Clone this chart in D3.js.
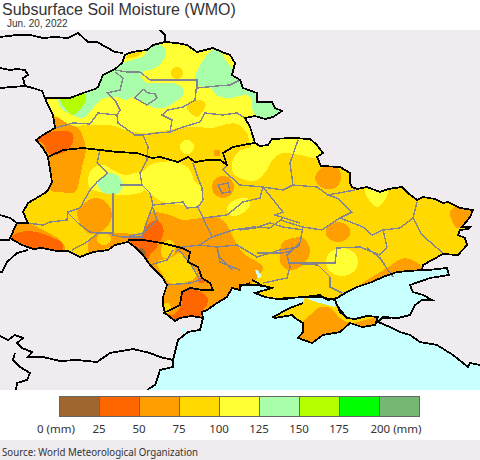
<!DOCTYPE html>
<html>
<head>
<meta charset="utf-8">
<script src="https://cdn.jsdelivr.net/npm/d3@7"></script>
<style>
html, body { margin: 0; padding: 0; background: #fff; }
svg { display: block; }
text { font-family: "Noto Sans", sans-serif; fill: #333; }
text.head { font-family: "Liberation Sans", sans-serif; }
</style>
</head>
<body>
<div id="chart"></div>
<script>
var legendBreaks = [0, 25, 50, 75, 100, 125, 150, 175, 200, 225];
var legendColors = ["#a0662f", "#ff6600", "#ff9e00", "#ffd900", "#ffff33", "#a9ffa9", "#b3ff00", "#00ff00", "#74b874"];
var legendLabels = ["0 (mm)", "25", "50", "75", "100", "125", "150", "175", "200 (mm)"];

var northBorder = [[45,98],[58,98],[70,98],[83,93],[95,89],[98,87],[100,82],[103,75],[115,69],[122,63],[125,55],[132,52],[147,50],[153,45],[165,42],[177,43],[187,45],[197,52],[213,48],[222,52],[230,55],[235,63],[232,75],[240,80],[243,88],[257,93],[257,102],[272,102],[275,108],[282,111],[273,117],[265,119],[255,116],[245,118],[250,127],[252,133],[255,143],[260,146],[268,145],[272,139],[293,138],[310,139],[316,144],[323,153],[317,157],[321,166],[340,167],[350,173],[350,183],[352,187],[357,189],[367,187],[380,192],[388,189],[402,187],[408,193],[417,200],[423,197],[435,199],[443,203],[448,202],[460,208],[473,210],[470,217],[462,227],[470,227],[468,229],[460,230],[458,235],[465,238],[467,245],[458,255],[443,254],[423,265],[422,270]];
var coastUkraine = [[422,270],[397,272],[383,277],[372,282],[357,287],[347,292],[337,298],[328,300],[320,295],[305,297],[288,298],[277,299],[265,297],[255,293],[272,288],[260,285],[250,285],[240,285],[240,290],[232,288],[227,297],[217,303],[207,310],[202,312],[203,318]];
var southWestBorder = [[203,318],[192,316],[180,318],[175,321],[165,313],[163,305],[163,297],[167,285],[162,277],[150,265],[143,255],[135,247],[128,242],[115,245],[108,250],[93,252],[85,255],[80,257],[68,251],[57,251],[42,248],[33,249],[22,245],[10,238],[17,223],[28,223],[23,212],[28,203],[45,193],[48,190],[52,182],[48,157],[43,148],[36,140],[43,135],[55,128],[53,115],[47,103],[45,98]];
var crimea = [[303,303],[290,308],[273,317],[275,318],[292,315],[295,318],[303,323],[303,332],[298,338],[312,343],[323,335],[340,332],[350,323],[362,327],[375,325],[378,317],[367,316],[355,319],[347,318],[338,307],[335,300],[320,297],[305,297]];
var azovRussia = [[422,270],[428,270],[447,268],[449,275],[430,278],[410,285],[413,292],[423,295],[432,300],[422,300],[415,305],[410,315],[398,318],[383,317],[378,322],[390,327],[400,332],[410,335],[420,342],[437,345],[453,355],[468,367],[470,363],[480,365]];
var romaniaCoast = [[203,318],[200,330],[188,332],[178,340],[173,360],[173,367],[160,370],[157,380],[155,385],[147,390]];
var sivash = [[305,297],[317,295],[327,300],[335,300],[335,307],[320,303],[310,300]];
var dniproMouth = [[255,270],[258,270],[262,277],[258,278]];
var razimLake = [[181,328],[185,328],[185,333],[181,333]];

var neighbourLines = [
  [[0,37],[17,35],[30,35],[43,38],[55,37],[68,38],[78,33],[88,42],[97,42],[115,52],[123,53]],
  [[0,68],[10,70],[17,69],[25,70],[28,75],[23,78],[25,86],[33,88],[42,91],[45,98]],
  [[0,88],[25,86]],
  [[160,30],[165,35],[165,42]],
  [[0,215],[10,218],[17,223]],
  [[0,240],[10,240]],
  [[28,250],[17,253],[7,262],[2,272],[0,272]],
  [[0,336],[8,340],[15,335],[23,338],[17,343],[22,348],[32,352],[28,357],[43,357],[60,361],[77,360],[97,362],[110,353],[133,349],[150,353],[160,357],[173,360]],
  [[15,353],[13,360],[20,367],[30,373],[27,380],[17,383],[16,390]]
];
var thickInner = [
  [[48,157],[63,150],[83,148],[117,152],[137,153],[152,158],[160,157],[178,162],[188,157],[195,162],[208,160],[220,160],[227,165],[223,153],[233,147],[248,144],[255,143]],
  [[128,240],[143,240],[162,243],[182,248],[190,252],[188,262],[198,267],[202,278],[210,283],[213,290],[203,290],[190,288],[182,292],[180,305],[170,310],[163,313]],
  [[335,300],[340,312],[347,318]],
  [[337,298],[347,292]],
  [[250,283],[245,285],[240,286]],
  [[252,280],[258,283],[262,287]],
  [[277,299],[288,299]],
  [[383,318],[391,318]]
];
var oblastLines = [
  [[115,70],[127,72],[140,72],[150,80],[170,80],[197,80],[197,88],[217,86],[230,85],[240,80]],
  [[115,72],[123,78],[120,90],[107,93],[115,100],[120,110],[117,115],[118,123],[135,135],[143,135],[157,133],[170,132]],
  [[55,128],[73,123],[90,124],[98,113],[117,115]],
  [[143,135],[148,147],[147,160],[140,173],[142,185],[120,185]],
  [[100,150],[97,163],[108,173],[97,182],[90,190],[80,208],[68,212],[67,220],[50,222],[43,225],[27,223]],
  [[197,82],[195,100],[183,107],[168,110],[162,115],[172,120],[170,132],[183,127],[200,122],[205,113],[223,115],[237,113],[245,118]],
  [[143,89],[135,98],[147,105],[157,98],[155,94],[148,93],[143,89]],
  [[298,140],[290,163],[293,185],[283,190],[263,187],[240,185],[223,170],[227,165]],
  [[293,185],[317,187],[328,195],[355,190]],
  [[328,195],[337,198],[352,212],[340,218],[322,230],[303,227],[280,220]],
  [[340,218],[363,227],[372,235],[383,230],[400,228],[413,218],[417,202]],
  [[413,218],[422,235],[437,248],[443,253]],
  [[383,230],[387,247],[380,255],[360,247],[337,248],[335,263],[320,263],[290,263]],
  [[303,227],[300,243],[287,255],[290,267],[287,278],[263,283]],
  [[367,248],[380,258],[388,270],[393,277]],
  [[240,230],[255,228],[270,223],[283,227],[303,230]],
  [[257,253],[280,253],[288,252],[300,245]],
  [[290,263],[318,265],[330,277],[330,287],[342,293],[337,298]],
  [[142,185],[150,193],[153,205],[150,213],[145,227],[142,237],[122,237],[113,235],[113,193]],
  [[153,205],[183,202],[187,208],[198,207],[203,218],[227,215],[243,202],[260,198],[263,187]],
  [[193,163],[198,178],[202,188],[203,200],[198,207]],
  [[263,187],[283,212],[275,215],[300,223]],
  [[203,218],[212,237],[200,245],[183,247],[175,252]],
  [[212,237],[233,230],[253,227],[270,228],[283,218]],
  [[200,245],[217,247],[237,245],[257,257],[280,250],[298,247]],
  [[217,247],[220,258],[233,270]],
  [[218,185],[228,183],[230,192],[222,193],[218,185]],
  [[67,212],[78,223],[90,232],[98,233],[113,233]],
  [[98,233],[87,242],[72,250]],
  [[153,208],[157,220],[143,233],[125,237]],
  [[173,250],[167,260],[150,265]],
  [[177,248],[190,263],[200,280],[190,283],[167,285]],
  [[217,247],[220,262],[240,270]]
];

// moisture patches, painted in this order over the 75-100 mm base
var yellowNorth = [[46,90],[47,100],[50,112],[58,117],[70,125],[90,125],[110,125],[133,132],[157,132],[177,128],[197,127],[213,128],[227,124],[237,124],[247,133],[252,146],[300,130],[260,60],[100,25],[40,70]];
var yellowNorthEast = [[232,163],[233,173],[245,180],[257,180],[267,170],[272,160],[282,153],[300,155],[320,157],[330,130],[262,130],[256,143],[250,147],[238,152]];
var yellowCentre = [[140,177],[150,165],[163,162],[178,162],[190,170],[195,182],[202,188],[202,200],[193,208],[183,205],[163,202],[152,195],[143,188]];
var yellowWest = [[88,178],[93,168],[103,165],[113,170],[125,175],[145,172],[145,190],[125,195],[112,194],[100,192],[90,188]];
var yellowKyivSouth = [[227,208],[235,200],[247,198],[250,205],[243,213],[232,216]];
var yellowEast = [[365,190],[377,207],[388,192],[380,180]];
var greenNorthWest = [[58,98],[63,110],[73,115],[83,118],[93,108],[100,100],[110,97],[117,97],[127,100],[133,97],[140,100],[152,107],[163,108],[175,102],[183,95],[183,88],[173,83],[157,83],[147,83],[142,78],[142,73],[157,67],[165,57],[165,48],[157,45],[147,50],[145,55],[133,60],[123,63],[113,70],[103,75],[98,83],[95,88],[70,95]];
var greenNorthEast = [[195,77],[202,62],[212,50],[218,50],[227,62],[233,68],[240,60],[290,110],[285,120],[258,118],[252,108],[252,100],[247,95],[230,98],[218,96],[210,88],[197,85]];
var greenWest = [[98,183],[104,175],[112,173],[120,178],[123,186],[118,193],[108,194],[100,190]];
var limeNorthWest = [[60,98],[83,92],[86,98],[82,107],[73,115],[65,108]];
var goldNorthPatch = [[187,108],[197,117],[205,107],[205,102],[197,100],[187,105]];
var goldNorthTip = [[125,58],[133,52],[143,50],[140,55],[130,58]];
var orangeNorthTip = [[128,54],[135,50],[140,50],[133,53]];
var orangeWest = [[53,117],[58,118],[70,125],[78,128],[83,137],[86,150],[83,163],[80,177],[75,192],[60,192],[50,190],[46,160],[32,140],[50,125]];
var redWest = [[36,140],[50,132],[72,133],[73,142],[67,150],[55,155],[48,153],[43,143]];
var orangeBlobWest = [[80,207],[95,198],[107,203],[112,215],[107,227],[98,233],[88,233],[80,223],[77,213]];
var orangeCarpath = [[9,237],[17,223],[28,223],[43,230],[60,240],[65,247],[63,255],[40,255],[20,250]];
var redCarpath = [[12,237],[20,232],[37,232],[53,238],[62,243],[62,252],[43,250],[30,248],[20,245]];
var orangeSouth = [[145,227],[150,213],[170,215],[183,220],[200,218],[217,217],[227,225],[233,237],[243,253],[263,267],[257,278],[245,292],[230,310],[205,330],[170,330],[155,300],[160,280],[150,265],[128,243],[115,245],[90,254],[88,245],[92,237],[100,233],[120,233],[143,233]];
var goldMoldovaMid = [[157,262],[170,258],[180,253],[190,265],[197,273],[192,280],[170,283],[163,275]];
var goldMoldovaTop = [[162,245],[170,240],[175,245],[173,255],[163,258]];
var redCentre = [[143,235],[147,225],[157,220],[163,227],[163,235],[158,243],[143,238]];
var redMoldovaNorth = [[128,238],[150,238],[158,245],[150,255],[147,262],[142,257],[135,247]];
var brownMoldova = [[140,248],[145,250],[146,256],[143,258],[139,252]];
var redBudjak = [[173,315],[182,303],[182,292],[190,288],[207,297],[207,305],[203,310],[203,325],[178,325],[165,313]];
var redDniester = [[198,278],[206,280],[203,283],[198,282]];
var orangePoltava = [[315,177],[322,168],[337,167],[341,177],[337,187],[325,189],[317,183]];
var orangeFarEast = [[450,212],[460,205],[476,208],[465,225],[457,228],[451,218]];
var orangeZaporizhzhia = [[280,253],[283,242],[303,238],[310,250],[303,265],[288,270],[280,262]];
var orangeAzov = [[355,290],[387,268],[405,258],[423,268],[423,275],[395,285]];
var orangeCrimea = [[303,322],[310,315],[320,307],[330,308],[340,318],[350,323],[375,318],[382,320],[380,332],[340,345],[295,347],[295,335]];

var patches = [
  { mm: 110, pts: yellowNorth }, { mm: 110, pts: yellowNorthEast }, { mm: 110, pts: yellowCentre },
  { mm: 110, pts: yellowWest }, { mm: 110, pts: yellowKyivSouth }, { mm: 110, pts: yellowEast },
  { mm: 135, pts: greenNorthWest }, { mm: 135, pts: greenNorthEast }, { mm: 135, pts: greenWest },
  { mm: 160, pts: limeNorthWest }, { mm: 85, pts: goldNorthPatch }, { mm: 85, pts: goldNorthTip },
  { mm: 60, pts: orangeNorthTip }, { mm: 60, pts: orangeWest }, { mm: 35, pts: redWest },
  { mm: 60, pts: orangeBlobWest }, { mm: 60, pts: orangeCarpath }, { mm: 35, pts: redCarpath },
  { mm: 60, pts: orangeSouth }, { mm: 85, pts: goldMoldovaMid }, { mm: 85, pts: goldMoldovaTop },
  { mm: 35, pts: redCentre }, { mm: 35, pts: redMoldovaNorth }, { mm: 10, pts: brownMoldova },
  { mm: 35, pts: redBudjak }, { mm: 35, pts: redDniester }, { mm: 60, pts: orangePoltava },
  { mm: 60, pts: orangeFarEast }, { mm: 60, pts: orangeZaporizhzhia }, { mm: 60, pts: orangeAzov },
  { mm: 60, pts: orangeCrimea }
];
// round patches: centre x, centre y, radius x, radius y, mm
var roundPatches = [
  [177, 73, 6, 6, 85],
  [187, 147, 7, 7, 110],
  [217, 153, 3.5, 3.5, 60],
  [223, 187, 11, 11, 60],
  [338, 232, 12.5, 10, 60],
  [342, 262, 16, 14, 110],
  [104, 239, 7, 6, 85],
  [167, 308, 4, 5, 85],
  [178, 319, 2, 1.5, 10]
];

var width = 480, height = 460;
var mapTop = 30, mapBottom = 390;

var colorScale = d3.scaleThreshold().domain(legendBreaks.slice(1, 9)).range(legendColors);
var xMap = d3.scaleLinear().domain([0, 480]).range([0, width]);
var yMap = d3.scaleLinear().domain([30, 390]).range([mapTop, mapBottom]);
var legendX = d3.scaleLinear().domain([0, 225]).range([59, 419]);

var line = d3.line().x(function(d) { return xMap(d[0]); }).y(function(d) { return yMap(d[1]); });
var smooth = d3.line().x(function(d) { return xMap(d[0]); }).y(function(d) { return yMap(d[1]); }).curve(d3.curveCatmullRomClosed);

var svg = d3.select("#chart").append("svg").attr("width", width).attr("height", height);

var landPts = northBorder.concat(coastUkraine.slice(1), southWestBorder.slice(1));
var seaPts = coastUkraine.concat(romaniaCoast.slice(1), [[480,390]], azovRussia.slice().reverse().slice(0, -1));

var defs = svg.append("defs");
defs.append("clipPath").attr("id", "land").selectAll("path")
  .data([landPts, crimea]).enter().append("path").attr("d", function(d) { return line(d) + "Z"; });
defs.append("clipPath").attr("id", "frame").append("rect")
  .attr("x", 0).attr("y", mapTop).attr("width", width).attr("height", mapBottom - mapTop);

var map = svg.append("g").attr("clip-path", "url(#frame)").style("shape-rendering", "crispEdges");
map.append("rect").attr("x", 0).attr("y", mapTop).attr("width", width).attr("height", mapBottom - mapTop).attr("fill", "#efebef");
map.append("path").attr("d", line(seaPts) + "Z").attr("fill", "#c8ffff");

var bands = map.append("g").attr("clip-path", "url(#land)");
bands.append("rect").attr("x", 0).attr("y", mapTop).attr("width", width).attr("height", mapBottom - mapTop).attr("fill", colorScale(85));
bands.selectAll("path.patch").data(patches).enter().append("path")
  .attr("class", "patch")
  .attr("d", function(d) { return smooth(d.pts); })
  .attr("fill", function(d) { return colorScale(d.mm); });
bands.selectAll("ellipse").data(roundPatches).enter().append("ellipse")
  .attr("cx", function(d) { return xMap(d[0]); })
  .attr("cy", function(d) { return yMap(d[1]); })
  .attr("rx", function(d) { return d[2]; })
  .attr("ry", function(d) { return d[3]; })
  .attr("fill", function(d) { return colorScale(d[4]); });
map.selectAll("path.water").data([sivash, dniproMouth, razimLake]).enter().append("path")
  .attr("class", "water").attr("d", function(d) { return line(d) + "Z"; }).attr("fill", "#c8ffff");

map.selectAll("path.oblast").data(oblastLines).enter().append("path")
  .attr("class", "oblast").attr("d", line)
  .attr("fill", "none").attr("stroke", "#84848f").attr("stroke-width", 1.4);

var blackLines = [northBorder, coastUkraine, southWestBorder, crimea, azovRussia, romaniaCoast]
  .concat(neighbourLines, thickInner);
map.selectAll("path.border").data(blackLines).enter().append("path")
  .attr("class", "border").attr("d", line)
  .attr("fill", "none").attr("stroke", "#000").attr("stroke-width", 1.8);

// title
svg.append("text").attr("class", "head").attr("x", 2).attr("y", 14.5).attr("font-size", 16)
  .text("Subsurface Soil Moisture (WMO)");
svg.append("text").attr("class", "head").attr("x", 7).attr("y", 27).attr("font-size", 10)
  .text("Jun. 20, 2022");

// legend
var swatches = legendColors.map(function(c, i) { return { color: c, from: legendBreaks[i], to: legendBreaks[i + 1] }; });
svg.selectAll("rect.swatch").data(swatches).enter().append("rect")
  .attr("class", "swatch")
  .attr("x", function(d) { return legendX(d.from); })
  .attr("y", 396)
  .attr("width", function(d) { return legendX(d.to) - legendX(d.from); })
  .attr("height", 20)
  .attr("fill", function(d) { return d.color; })
  .attr("stroke", "#666").attr("stroke-width", 1)
  .style("shape-rendering", "crispEdges");
svg.selectAll("text.tick").data(legendLabels).enter().append("text")
  .attr("class", "tick")
  .attr("x", function(d, i) {
    var dx = i == 0 ? -3 : (i == legendLabels.length - 1 ? 17 : 0);
    return legendX(legendBreaks[i]) + dx;
  })
  .attr("y", 433).attr("text-anchor", "middle").attr("font-size", 11.5)
  .text(function(d) { return d; });

// source bar
svg.append("rect").attr("x", 0).attr("y", 440).attr("width", width).attr("height", 20).attr("fill", "#efebef");
svg.append("text").attr("x", 2).attr("y", 456).attr("font-size", 10)
  .attr("textLength", 196).attr("lengthAdjust", "spacingAndGlyphs")
  .text("Source: World Meteorological Organization");
</script>
</body>
</html>
